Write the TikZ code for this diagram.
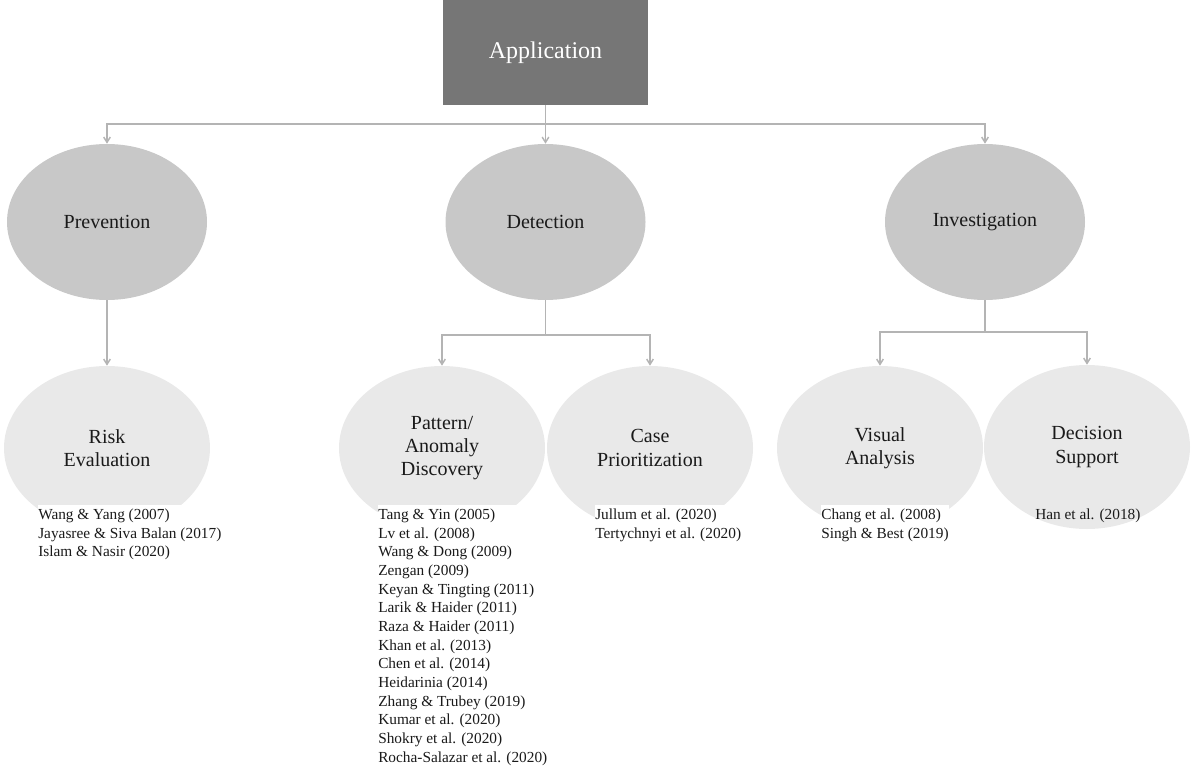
\documentclass[tikz,border=0pt]{standalone}
\usepackage{fontspec}
\setmainfont{Liberation Serif}
\usetikzlibrary{shapes.geometric,arrows.meta}
\definecolor{boxgray}{HTML}{767676}
\definecolor{topgray}{HTML}{C8C8C8}
\definecolor{subgray}{HTML}{E9E9E9}
\definecolor{linegray}{HTML}{B4B4B4}
\definecolor{textblack}{HTML}{1A1A1A}
\begin{document}
\begin{tikzpicture}[x=0.75pt,y=-0.75pt,
  conn/.style={draw=linegray, line width=1.1pt},
  arr/.style={conn,-{Straight Barb[length=4pt,width=5pt]}},
  topell/.style={ellipse, fill=topgray, minimum width=150pt, minimum height=117pt, inner sep=0pt, text=textblack, font=\fontsize{15}{17.5}\selectfont, align=center},
  subell/.style={ellipse, fill=subgray, minimum width=154.5pt, minimum height=123pt, inner sep=0pt, text=textblack, font=\fontsize{15}{17.5}\selectfont, align=center},
  reflist/.style={anchor=north west, inner xsep=0pt, inner ysep=3pt, align=left, text=textblack, font=\fontsize{11.5}{14}\selectfont},
  whitelist/.style={reflist, fill=white}]
\useasboundingbox (0,0) rectangle (1192,771);
% root
\node[fill=boxgray, minimum width=153.75pt, minimum height=78.75pt, inner sep=0pt, text=white, font=\fontsize{18}{20}\selectfont] (app) at (545.5,52.5) {Application};
% first level
\node[topell] (prev) at (107,222) {Prevention};
\node[topell] (det) at (545.5,222) {Detection};
\node[topell] (inv) at (985,222) {Investigation};
% second level
\node[subell] (risk) at (107,448) {Risk\\Evaluation};
\node[subell] (pat) at (442,448) {Pattern/\\Anomaly\\Discovery};
\node[subell] (case) at (650,448) {Case\\Prioritization};
\node[subell] (vis) at (880,448) {Visual\\Analysis};
\node[subell] (dec) at (1087,447) {Decision\\Support};
% connectors
\coordinate (j1) at (545.5,124);
\coordinate (j2) at (545.5,335);
\coordinate (j3) at (985,332);
\draw[conn] (app.south) -- (j1);
\draw[arr] (j1) -| (prev.north);
\draw[arr] (j1) -- (det.north);
\draw[arr] (j1) -| (inv.north);
\draw[arr] (prev.south) -- (risk.north);
\draw[conn] (det.south) -- (j2);
\draw[arr] (j2) -| (pat.north);
\draw[arr] (j2) -| (case.north);
\draw[conn] (inv.south) -- (j3);
\draw[arr] (j3) -| (vis.north);
\draw[arr] (j3) -| (dec.north);
% reference lists
\node[whitelist] (lrisk) at (38,504.5) {Wang \& Yang (2007)\\Jayasree \& Siva Balan (2017)\\Islam \& Nasir (2020)};
\node[whitelist] (lpat) at (378,504.5) {Tang \& Yin (2005)\\Lv et al. (2008)\\Wang \& Dong (2009)\\Zengan (2009)\\Keyan \& Tingting (2011)\\Larik \& Haider (2011)\\Raza \& Haider (2011)\\Khan et al. (2013)\\Chen et al. (2014)\\Heidarinia (2014)\\Zhang \& Trubey (2019)\\Kumar et al. (2020)\\Shokry et al. (2020)\\Rocha-Salazar et al. (2020)};
\node[whitelist] (lcase) at (595,504.5) {Jullum et al. (2020)\\Tertychnyi et al. (2020)};
\node[whitelist] (lvis) at (821,504.5) {Chang et al. (2008)\\Singh \& Best (2019)};
\node[reflist] (ldec) at (1035,504.5) {Han et al. (2018)};
\end{tikzpicture}
\end{document}
